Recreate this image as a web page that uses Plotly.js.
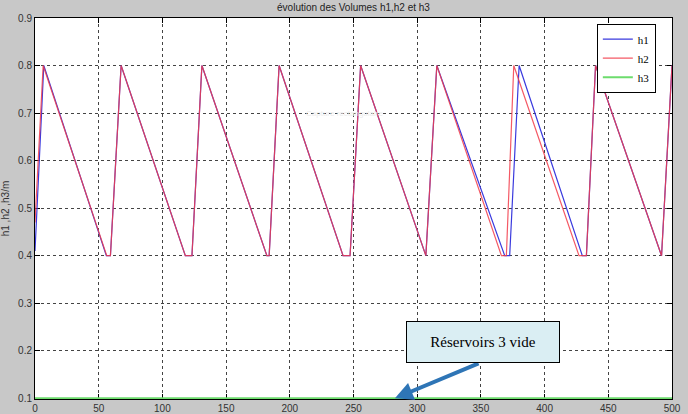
<!DOCTYPE html>
<html>
<head>
<meta charset="utf-8">
<script src="https://cdn.plot.ly/plotly-3.0.1.min.js"></script>
<style>html,body{margin:0;padding:0;background:#c8c8c8;}#chart{width:688px;height:414px;}</style>
</head>
<body>
<div id="chart"></div>
<script>
// h1 (blue) vertices
const h1X = [0, 6.9, 56, 59.2, 67.6, 118, 123.2, 131, 182, 183.8, 191.6, 241.8, 247.3, 255.6, 306.8, 315.4, 368.7, 372.6, 380, 429.6, 432.8, 440, 491.8, 500];
const h1Y = [0.41, 0.8, 0.4, 0.4, 0.8, 0.4, 0.4, 0.8, 0.4, 0.4, 0.8, 0.4, 0.4, 0.8, 0.4, 0.8, 0.4, 0.4, 0.8, 0.4, 0.4, 0.8, 0.4, 0.8];
// h2 (red) vertices
const h2X = [0, 6.4, 56.3, 59.2, 67.6, 118, 123.2, 131, 182, 183.8, 191.6, 241.8, 247.3, 255.6, 306.8, 315.4, 366.1, 370, 375.8, 427, 432.8, 440, 491.8, 500];
const h2Y = [0.47, 0.8, 0.4, 0.4, 0.8, 0.4, 0.4, 0.8, 0.4, 0.4, 0.8, 0.4, 0.4, 0.8, 0.4, 0.8, 0.4, 0.4, 0.8, 0.4, 0.4, 0.8, 0.4, 0.8];
// h3 (green) : reservoir 3 empty
const h3X = [0, 500];
const h3Y = [0.1, 0.1];

const xTicks = [0, 50, 100, 150, 200, 250, 300, 350, 400, 450, 500];
const yTicks = [0.1, 0.2, 0.3, 0.4, 0.5, 0.6, 0.7, 0.8, 0.9];
const yTickLabels = ['0.1', '0.2', '0.3', '0.4', '0.5', '0.6', '0.7', '0.8', '0.9'];

const traces = [
  {x: h1X, y: h1Y, name: 'h1', mode: 'lines', line: {color: '#3a3ade', width: 1.2}},
  {x: h2X, y: h2Y, name: 'h2', mode: 'lines', line: {color: '#f23c4a', width: 1.2}, opacity: 0.85},
  {x: h3X, y: h3Y, name: 'h3', mode: 'lines', line: {color: '#6ddc6d', width: 2}}
];

const tickFont = {family: 'Liberation Sans, Arial, sans-serif', size: 10, color: '#333'};

const layout = {
  width: 688, height: 414,
  paper_bgcolor: '#c8c8c8', plot_bgcolor: '#ffffff',
  margin: {l: 34.5, r: 15.5, t: 18, b: 15},
  title: {text: 'évolution des Volumes h1,h2 et h3', font: {family: 'Liberation Sans, Arial, sans-serif', size: 10, color: '#222'},
          x: 0.5, xref: 'paper', y: 0.981, yref: 'container', yanchor: 'middle'},
  showlegend: true,
  legend: {x: 0.882, y: 0.985, xanchor: 'left', yanchor: 'top', bgcolor: '#ffffff', bordercolor: '#000', borderwidth: 1,
           font: {family: 'Liberation Serif, Times New Roman, serif', size: 11, color: '#000'}, tracegroupgap: 0},
  xaxis: {range: [0, 500], tickvals: xTicks, ticktext: xTicks.map(String), tickfont: tickFont,
          showgrid: true, gridcolor: '#444', griddash: 'dot', gridwidth: 1,
          ticks: 'inside', ticklen: 5, tickcolor: '#000', showline: true, linecolor: '#000', linewidth: 1,
          mirror: 'ticks', zeroline: false, layer: 'below traces', fixedrange: true},
  yaxis: {range: [0.0985, 0.9], tickvals: yTicks, ticktext: yTickLabels, tickfont: tickFont,
          showgrid: true, gridcolor: '#444', griddash: 'dot', gridwidth: 1,
          ticks: 'inside', ticklen: 5, tickcolor: '#000', showline: true, linecolor: '#000', linewidth: 1,
          mirror: 'ticks', zeroline: false, layer: 'below traces', fixedrange: true,
          title: {text: 'h1 ,h2 ,h3/m', font: {family: 'Liberation Sans, Arial, sans-serif', size: 10, color: '#333'}, standoff: 8}},
  annotations: [
    {x: 282.5, y: 0.1, xref: 'x', yref: 'y', ax: 350.5, ay: 0.176, axref: 'x', ayref: 'y',
     text: ' ', showarrow: true, arrowhead: 2, arrowsize: 0.9, arrowwidth: 4, arrowcolor: '#2e75b6'},
    {x: 351.5, y: 0.2185, xref: 'x', yref: 'y', text: 'Réservoirs 3 vide', showarrow: false,
     width: 150, height: 38, bgcolor: '#daeef3', bordercolor: '#000', borderwidth: 1, align: 'center',
     font: {family: 'Liberation Serif, Times New Roman, serif', size: 15, color: '#000'}},
    {x: 243, y: 0.70, xref: 'x', yref: 'y', text: 'Capture rectangulaire', showarrow: false,
     font: {family: 'Liberation Sans, Arial, sans-serif', size: 8, color: '#ececec'}}
  ]
};

Plotly.newPlot('chart', traces, layout, {displayModeBar: false, staticPlot: true});
</script>
</body>
</html>
